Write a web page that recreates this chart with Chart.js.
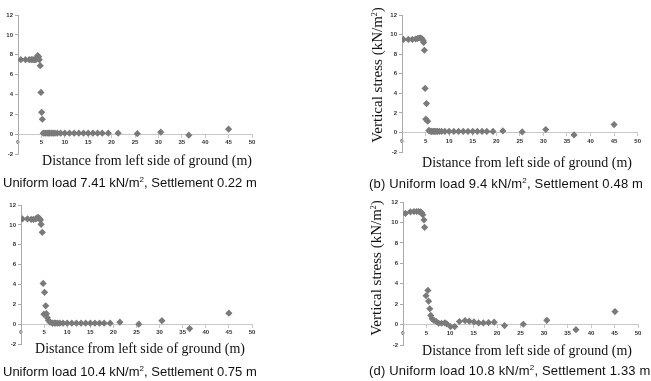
<!DOCTYPE html>
<html>
<head>
<meta charset="utf-8">
<script src="https://cdn.jsdelivr.net/npm/chart.js@4.4.1/dist/chart.umd.min.js"></script>
<style>
  body { margin: 0; width: 651px; height: 381px; background: #fff; position: relative; overflow: hidden; }
  canvas { position: absolute; }
  .xtitle { position: absolute; font-family: "Liberation Serif", "Times New Roman", serif; font-size: 14px; line-height: 14px; color: #111; white-space: nowrap; transform: translateX(-50%); }
  .ytitle { position: absolute; font-family: "Liberation Serif", "Times New Roman", serif; font-size: 15px; line-height: 15px; color: #111; white-space: nowrap; transform: translate(-50%, -50%) rotate(-90deg); }
  .caption { position: absolute; font-family: "Liberation Sans", Arial, sans-serif; font-size: 13px; line-height: 13px; color: #111; white-space: nowrap; }
  .caption.right { letter-spacing: 0.18px; }
  sup { font-size: 8px; line-height: 0; vertical-align: 5px; }
</style>
</head>
<body>
<canvas id="chartA" width="258" height="160" style="left:0px; top:0px;"></canvas>
<canvas id="chartB" width="261" height="158" style="left:382px; top:0px;"></canvas>
<canvas id="chartC" width="258" height="160" style="left:0px; top:190px;"></canvas>
<canvas id="chartD" width="262" height="161" style="left:382px; top:190px;"></canvas>

<div class="xtitle" style="left:147px; top:154px;">Distance from left side of ground (m)</div>
<div class="xtitle" style="left:527px; top:156px;">Distance from left side of ground (m)</div>
<div class="xtitle" style="left:140px; top:342px;">Distance from left side of ground (m)</div>
<div class="xtitle" style="left:527px; top:344px;">Distance from left side of ground (m)</div>

<div class="ytitle" style="left:377px; top:75px;">Vertical stress (kN/m<sup>2</sup>)</div>
<div class="ytitle" style="left:376px; top:268px;">Vertical stress (kN/m<sup>2</sup>)</div>

<div class="caption" style="left:3px; top:176px;">Uniform load 7.41 kN/m<sup>2</sup>, Settlement 0.22 m</div>
<div class="caption right" style="left:369px; top:177px;">(b) Uniform load 9.4 kN/m<sup>2</sup>, Settlement 0.48 m</div>
<div class="caption" style="left:3px; top:365px;">Uniform load 10.4 kN/m<sup>2</sup>, Settlement 0.75 m</div>
<div class="caption right" style="left:369px; top:364px;">(d) Uniform load 10.8 kN/m<sup>2</sup>, Settlement 1.33 m</div>

<script>
// Distance from left side of ground (m) and vertical stress (kN/m2)
const distA = [0.6, 1.6, 2.4, 2.85, 3.2, 3.5, 3.8, 4.0, 4.2, 4.4, 4.55, 4.75, 4.9, 5.05, 5.2,
  5.4, 5.8, 6.2, 6.5, 6.8, 7.2, 7.5, 7.9, 8.4, 9.1, 10, 11, 12, 13, 14, 15, 16, 17, 18, 19.3,
  21.4, 25.5, 30.5, 36.5, 45];
const stressA = [7.5, 7.5, 7.5, 7.5, 7.5, 7.5, 7.5, 7.6, 7.9, 7.8, 7.5, 6.9, 4.2, 2.2, 1.5,
  0.1, 0.1, 0.1, 0.1, 0.1, 0.1, 0.1, 0.1, 0.1, 0.1, 0.1, 0.1, 0.1, 0.1, 0.1, 0.1, 0.1, 0.1, 0.1, 0.1,
  0.1, 0.05, 0.2, -0.1, 0.5];

const distB = [0.3, 1.35, 2.2, 2.9, 3.25, 3.6, 3.9, 4.2, 4.47, 4.6, 4.75, 4.9, 5.2, 5.05, 5.45,
  5.7, 6.0, 6.3, 6.6, 6.9, 7.2, 7.5, 7.9, 8.4, 9.1, 10, 11, 12, 13, 14, 15, 16, 17, 18, 19.3,
  21.4, 25.5, 30.5, 36.5, 45];
const stressB = [9.5, 9.5, 9.5, 9.55, 9.6, 9.65, 9.65, 9.6, 9.4, 9.2, 8.4, 4.5, 2.95, 1.35, 1.15,
  0.2, 0.1, 0.1, 0.1, 0.1, 0.1, 0.1, 0.1, 0.1, 0.1, 0.1, 0.1, 0.1, 0.1, 0.1, 0.1, 0.1, 0.1, 0.1, 0.1,
  0.15, 0.05, 0.3, -0.25, 0.8];

const distC = [0.3, 1.4, 2.2, 2.7, 3.2, 3.5, 3.7, 4.0, 4.2, 4.35, 4.6, 4.8, 5.1, 5.35, 4.95, 5.5, 5.7, 5.95, 6.3,
  6.8, 7.2, 7.5, 7.9, 8.4, 9.1, 10, 11, 12, 13, 14, 15, 16, 17, 18, 19.3,
  21.4, 25.5, 30.5, 36.5, 45];
const stressC = [10.6, 10.6, 10.55, 10.55, 10.6, 10.7, 10.75, 10.65, 10.5, 10.05, 9.25, 4.1, 3.2, 1.85, 1.0, 1.05, 0.65, 0.37, 0.2,
  0.1, 0.1, 0.1, 0.1, 0.1, 0.1, 0.1, 0.1, 0.1, 0.1, 0.1, 0.1, 0.1, 0.1, 0.1, 0.1,
  0.2, 0.0, 0.35, -0.45, 1.1];

const distD = [0.5, 1.56, 2.34, 2.9, 3.3, 3.7, 3.97, 4.2, 4.47, 4.6, 4.9, 5.3, 5.45, 5.7, 5.9,
  6.2, 6.6, 7.1, 7.6, 8.2, 8.9, 9.3, 10.1, 11.0, 12.0, 13.2, 14.1, 15.1, 16.1, 17.1, 18.2, 19.4,
  21.6, 25.6, 30.6, 36.8, 45.1];
const stressD = [10.88, 11.04, 11.07, 11.07, 11.07, 11.04, 10.95, 10.76, 10.24, 9.52, 2.82, 3.34, 2.29, 1.55, 0.9,
  0.56, 0.4, 0.3, 0.13, 0.13, 0.16, 0.07, -0.2, -0.2, 0.3, 0.39, 0.33, 0.26, 0.16, 0.16, 0.2, 0.23,
  -0.1, 0.03, 0.42, -0.5, 1.27];

// Axis ranges and tick steps shared by all four panels
const xRange = [0, 50];
const xStep = 5;
const yRange = [-2, 12];
const yStep = 2;

// Pair up distances and stresses into scatter points
function buildPoints(xs, ys) {
  return xs.map((x, i) => ({ x: x, y: ys[i] }));
}

// Draw one panel; axisWidth fixes the y-axis box so the plot lines up with the picture
function drawPanel(id, xs, ys, axisWidth, padding) {
  const ctx = document.getElementById(id).getContext('2d');
  return new Chart(ctx, {
    type: 'scatter',
    data: {
      datasets: [{
        data: buildPoints(xs, ys),
        pointStyle: 'rectRot',
        pointRadius: 3.6,
        backgroundColor: '#7a7a7a',
        borderColor: '#7a7a7a',
        borderWidth: 0
      }]
    },
    options: {
      responsive: false,
      animation: false,
      layout: { padding: padding },
      plugins: { legend: { display: false }, tooltip: { enabled: false } },
      scales: {
        x: {
          type: 'linear',
          position: { y: 0 },
          min: xRange[0],
          max: xRange[1],
          ticks: { stepSize: xStep, font: { size: 6, weight: 'bold' }, color: '#333', padding: 2, maxRotation: 0 },
          grid: { drawOnChartArea: false, tickLength: 3, color: '#c8c8c8' },
          border: { color: '#c8c8c8' }
        },
        y: {
          min: yRange[0],
          max: yRange[1],
          ticks: { stepSize: yStep, font: { size: 6, weight: 'bold' }, color: '#333', padding: 2 },
          grid: { drawOnChartArea: false, tickLength: 3, color: '#aaa' },
          border: { color: '#aaa' },
          afterFit: scale => { scale.width = axisWidth; }
        }
      }
    }
  });
}

drawPanel('chartA', distA, stressA, 18, { left: 0, right: 6, top: 15, bottom: 6 });
drawPanel('chartB', distB, stressB, 20, { left: 0, right: 5, top: 15, bottom: 6 });
drawPanel('chartC', distC, stressC, 21, { left: 0, right: 6, top: 15, bottom: 6 });
drawPanel('chartD', distD, stressD, 21, { left: 0, right: 6, top: 12, bottom: 6 });
</script>
</body>
</html>
